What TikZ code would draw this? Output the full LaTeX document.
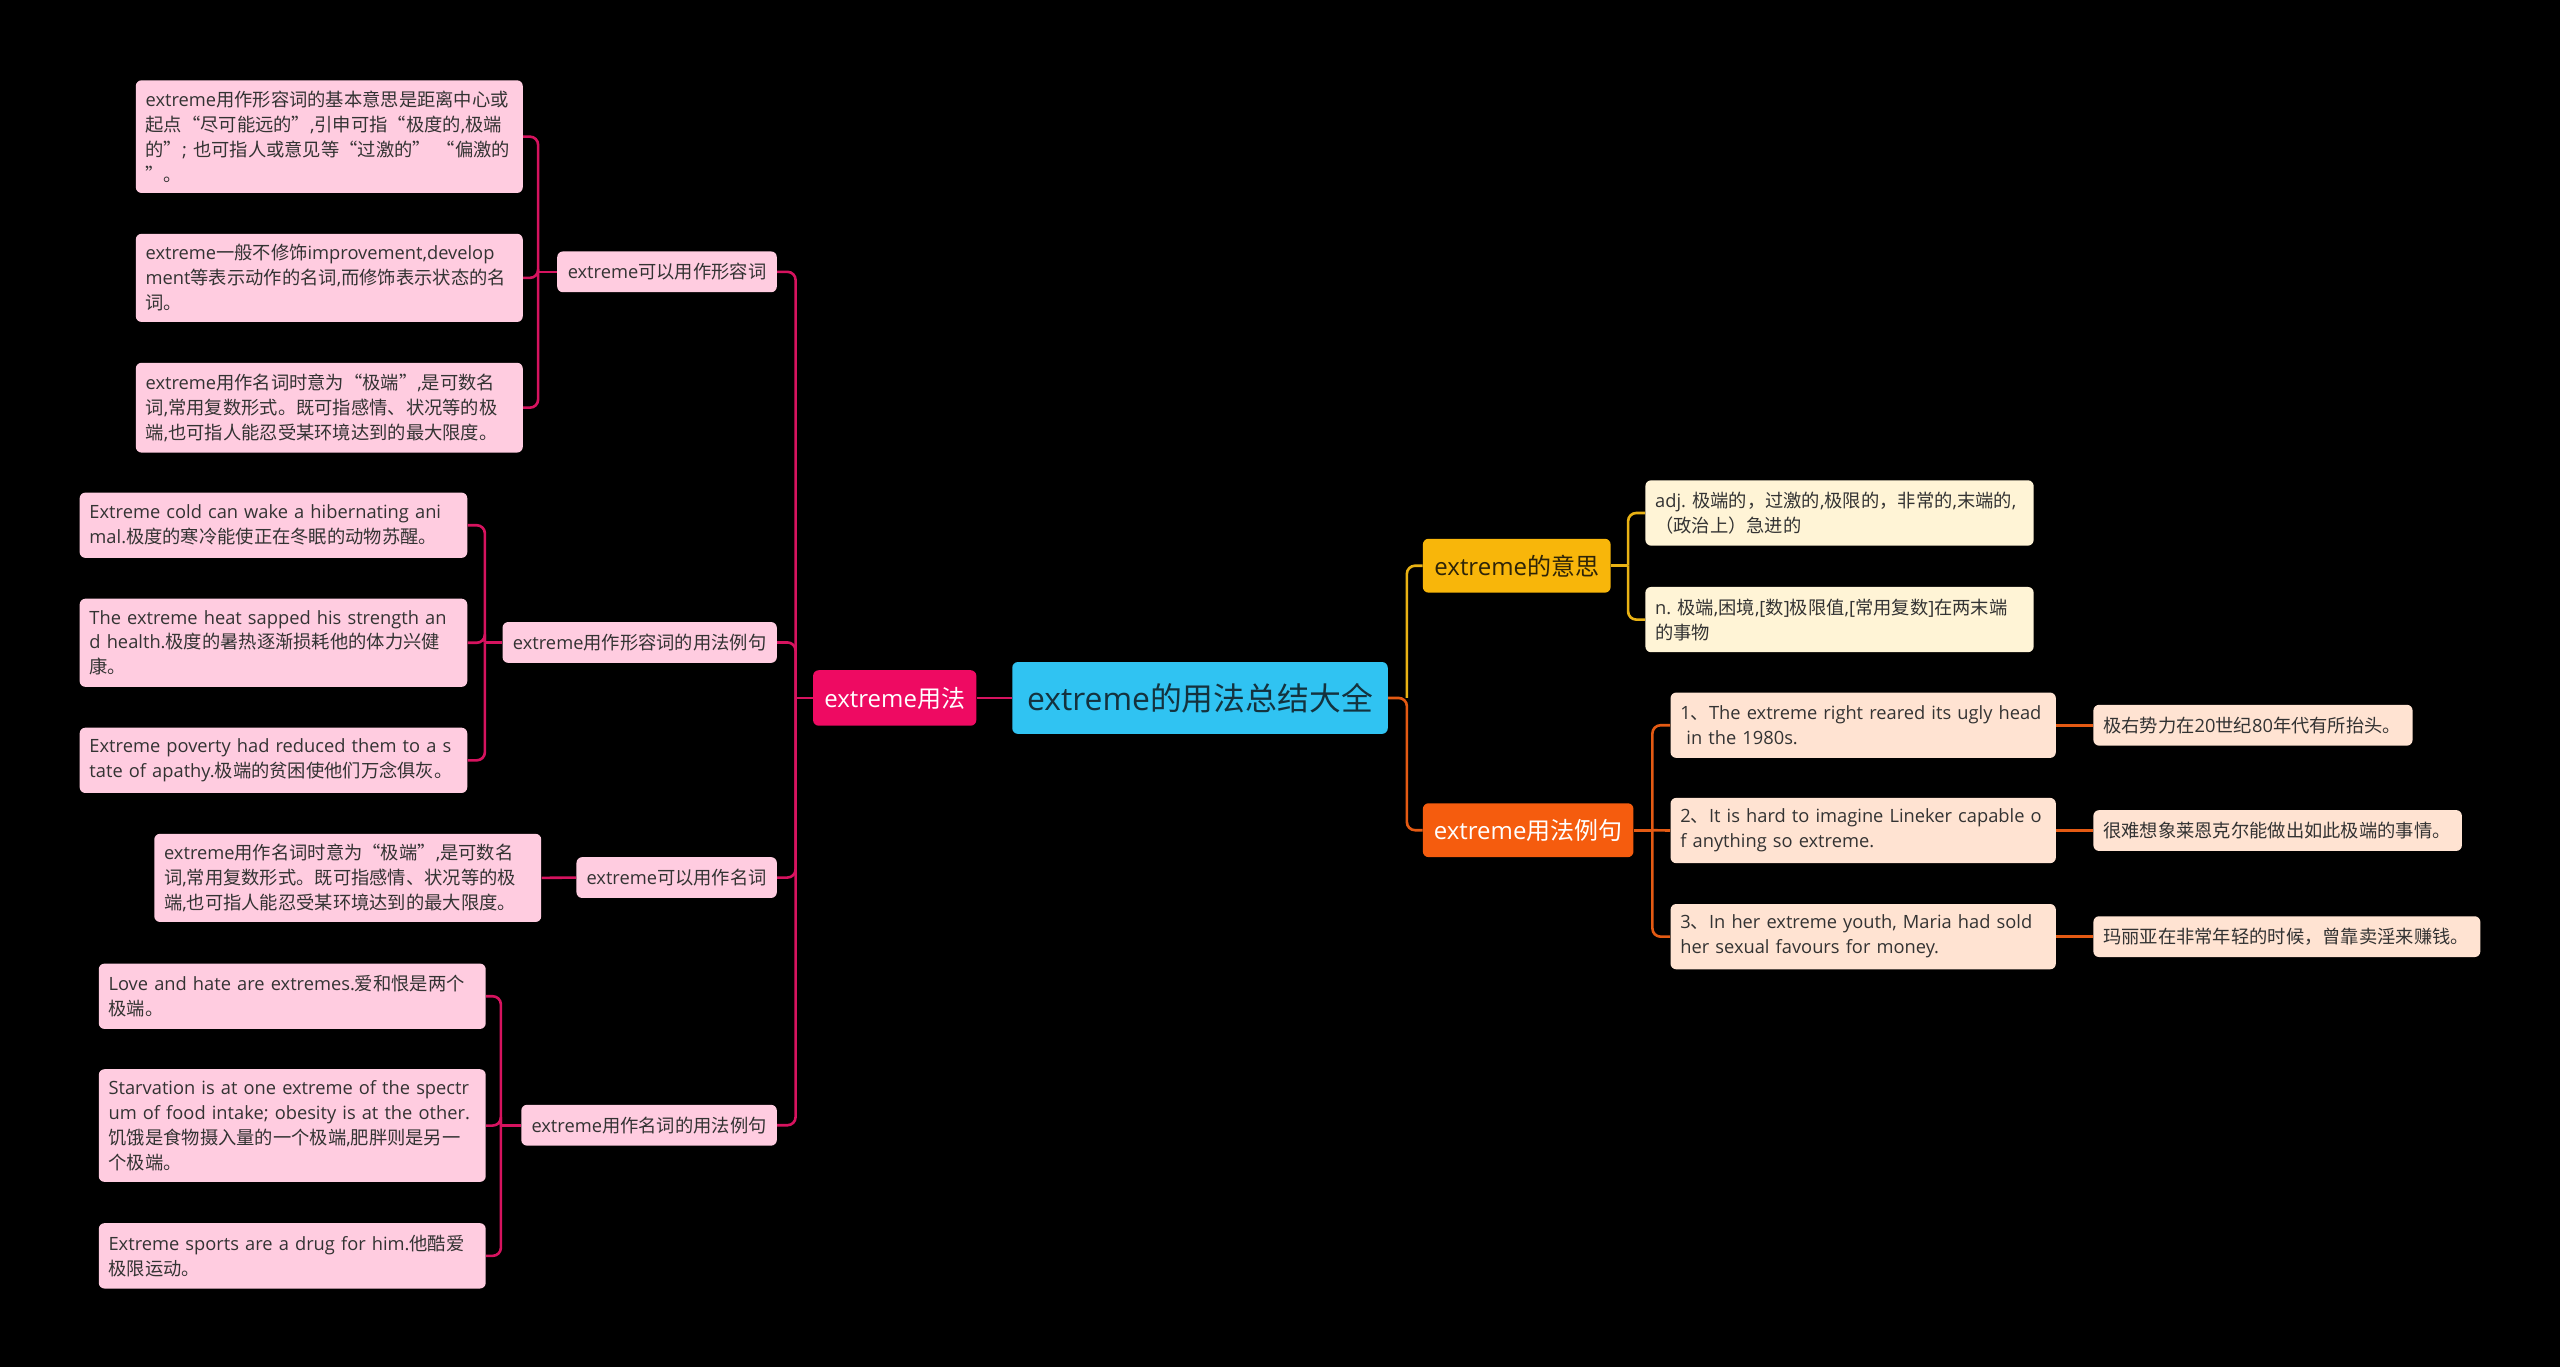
\documentclass[tikz,border=0pt]{standalone}
\usepackage{fontspec}
\setmainfont{Open Sans}[Scale=1.0]
\newfontfamily\cjkf{Noto Sans CJK SC}
\XeTeXinterchartokenstate=1
\newXeTeXintercharclass\cjkcls
\newcount\cjkcc
\def\setcjkrange#1#2{\cjkcc=#1\relax\loop\XeTeXcharclass\cjkcc=\cjkcls\relax\ifnum\cjkcc<#2\relax\advance\cjkcc by 1\relax\repeat}
\setcjkrange{"3000}{"303F}
\setcjkrange{"4E00}{"9FFF}
\setcjkrange{"FF00}{"FFEF}
\XeTeXcharclass"201C=\cjkcls
\XeTeXcharclass"201D=\cjkcls
\XeTeXinterchartoks 0 \cjkcls = {\begingroup\cjkf}
\XeTeXinterchartoks 4095 \cjkcls = {\begingroup\cjkf}
\XeTeXinterchartoks \cjkcls 0 = {\endgroup}
\XeTeXinterchartoks \cjkcls 4095 = {\endgroup}

\definecolor{pinkfill}{HTML}{FFCCE0}
\definecolor{pinkline}{HTML}{D6135F}
\definecolor{usagefill}{HTML}{EE0A62}
\definecolor{rootfill}{HTML}{30C3F2}
\definecolor{roottext}{HTML}{14323E}
\definecolor{yfill}{HTML}{F8B60A}
\definecolor{ytext}{HTML}{2E2408}
\definecolor{yline}{HTML}{E9B214}
\definecolor{cfill}{HTML}{FFF4D6}
\definecolor{ofill}{HTML}{F55C0E}
\definecolor{oline}{HTML}{E45A13}
\definecolor{dfill}{HTML}{FFE3D2}
\definecolor{leaftext}{HTML}{333333}

\newcommand\myleaf{\fontsize{11.2}{15.3}\selectfont}
\newcommand\mymid{\fontsize{11.2}{13}\selectfont}
\newcommand\mybig{\fontsize{14.7}{16}\selectfont}
\newcommand\myroot{\fontsize{19.5}{22}\selectfont}
\newcommand\Lx[1]{\mbox{#1}}

\tikzset{
  nbox/.style={rounded corners=3.5pt, inner sep=0pt},
  leafbox/.style={nbox, anchor=north west, align=left, inner xsep=6pt, inner ysep=3pt, font=\myleaf, text=leaftext},
  pleaf/.style={leafbox, fill=pinkfill},
  cleaf/.style={leafbox, fill=cfill},
  dleaf/.style={leafbox, fill=dfill},
  midbox/.style={nbox, fill=pinkfill, anchor=east, font=\mymid, text=leaftext, minimum height=25pt},
  pl/.style={draw=pinkline, line width=1.6pt},
  yl/.style={draw=yline, line width=1.6pt},
  ol/.style={draw=oline, line width=1.6pt},
  rc/.style={rounded corners=5pt},
}

\begin{document}
\begin{tikzpicture}[x=1pt,y=-1pt,line join=round]
\path[fill=black] (0,0) rectangle (1568,837);

% central and first level
\node[nbox, fill=rootfill, text=roottext, font=\myroot, minimum width=230pt, minimum height=44pt] (root) at (735,427.5) {extreme的用法总结大全};
\node[nbox, fill=usagefill, text=white, font=\mybig, minimum width=100pt, minimum height=34pt] (yongfa) at (548,427.5) {extreme用法};
\node[nbox, fill=yfill, text=ytext, font=\mybig, minimum width=115pt, minimum height=33pt] (B1) at (929,346.5) {extreme的意思};
\node[nbox, fill=ofill, text=white, font=\mybig, minimum width=129pt, minimum height=33pt] (B2) at (936,508.5) {extreme用法例句};

% left second level
\node[midbox, minimum width=134.5pt] (A1) at (476,166.5) {extreme可以用作形容词};
\node[midbox, minimum width=168pt] (A2) at (476,393.5) {extreme用作形容词的用法例句};
\node[midbox, minimum width=122.7pt] (A3) at (476,537.5) {extreme可以用作名词};
\node[midbox, minimum width=156.5pt] (A4) at (476,689.2) {extreme用作名词的用法例句};

% left leaves
\node[pleaf, text width=225pt, minimum height=69pt] (L1) at (83,49) {\Lx{extreme用作形容词的基本意思是距离中心或}\\\Lx{起点“尽可能远的”,引申可指“极度的,极端}\\\Lx{的”; 也可指人或意见等“过激的” “偏激的}\\\Lx{”。}};
\node[pleaf, text width=225pt, minimum height=54pt] (L2) at (83,143) {\Lx{extreme一般不修饰improvement,develop}\\\Lx{ment等表示动作的名词,而修饰表示状态的名}\\\Lx{词。}};
\node[pleaf, text width=225pt, minimum height=55pt] (L3) at (83,222) {\Lx{extreme用作名词时意为“极端”,是可数名}\\\Lx{词,常用复数形式。既可指感情、状况等的极}\\\Lx{端,也可指人能忍受某环境达到的最大限度。}};

\node[pleaf, text width=225.4pt, minimum height=40pt] (M1) at (48.6,301.5) {\Lx{Extreme cold can wake a hibernating ani}\\\Lx{mal.极度的寒冷能使正在冬眠的动物苏醒。}};
\node[pleaf, text width=225.4pt, minimum height=54pt] (M2) at (48.6,366.5) {\Lx{The extreme heat sapped his strength an}\\\Lx{d health.极度的暑热逐渐损耗他的体力兴健}\\\Lx{康。}};
\node[pleaf, text width=225.4pt, minimum height=40pt] (M3) at (48.6,445.5) {\Lx{Extreme poverty had reduced them to a s}\\\Lx{tate of apathy.极端的贫困使他们万念俱灰。}};

\node[pleaf, text width=225pt, minimum height=54pt] (N1) at (94.3,510.5) {\Lx{extreme用作名词时意为“极端”,是可数名}\\\Lx{词,常用复数形式。既可指感情、状况等的极}\\\Lx{端,也可指人能忍受某环境达到的最大限度。}};

\node[pleaf, text width=225pt, minimum height=40pt] (P1) at (60.3,590) {\Lx{Love and hate are extremes.爱和恨是两个}\\\Lx{极端。}};
\node[pleaf, text width=225pt, minimum height=69pt] (P2) at (60.3,654.7) {\Lx{Starvation is at one extreme of the spectr}\\\Lx{um of food intake; obesity is at the other.}\\\Lx{饥饿是食物摄入量的一个极端,肥胖则是另一}\\\Lx{个极端。}};
\node[pleaf, text width=225pt, minimum height=40pt] (P3) at (60.3,749) {\Lx{Extreme sports are a drug for him.他酷爱}\\\Lx{极限运动。}};

% right leaves
\node[cleaf, text width=225.8pt, minimum height=40pt] (C1) at (1007.6,294) {\Lx{adj.~极端的，过激的,极限的，非常的,末端的,}\\\Lx{（政治上）急进的}};
\node[cleaf, text width=225.8pt, minimum height=40pt] (C2) at (1007.6,359.3) {\Lx{n.~极端,困境,[数]极限值,[常用复数]在两末端}\\\Lx{的事物}};

\node[dleaf, text width=224pt, minimum height=40pt] (D1) at (1023,424) {\Lx{1、The extreme right reared its ugly head}\\\Lx{\ in the 1980s.}};
\node[dleaf, text width=224pt, minimum height=40pt] (D2) at (1023,488.5) {\Lx{2、It is hard to imagine Lineker capable o}\\\Lx{f anything so extreme.}};
\node[dleaf, text width=224pt, minimum height=40pt] (D3) at (1023,553.5) {\Lx{3、In her extreme youth, Maria had sold}\\\Lx{her sexual favours for money.}};

\node[dleaf, text width=183.5pt, minimum height=25pt] (E1) at (1282,431.5) {\Lx{极右势力在20世纪80年代有所抬头。}};
\node[dleaf, text width=213.7pt, minimum height=25pt] (E2) at (1282,496) {\Lx{很难想象莱恩克尔能做出如此极端的事情。}};
\node[dleaf, text width=225pt, minimum height=25pt] (E3) at (1282,561) {\Lx{玛丽亚在非常年轻的时候，曾靠卖淫来赚钱。}};

% branch points
\path (yongfa.west) ++(-10.5,0) coordinate (tL);
\path (A1.west) ++(-11.5,0) coordinate (tA1);
\path (A2.west) ++(-10.6,0) coordinate (tA2);
\path (A4.west) ++(-12.3,0) coordinate (tA4);
\path (root.east) ++(11.5,0) coordinate (tR);
\path (B1.east) ++(10.5,0) coordinate (tB1);
\path (B2.east) ++(11.4,0) coordinate (tB2);

% left connectors
\draw[pl] (root.west) -- (yongfa.east);
\draw[pl] (yongfa.west) -- (tL);
\foreach \n in {A1,A2,A3,A4} \draw[pl,rc] (tL) |- (\n.east);
\draw[pl] (A1.west) -- (tA1);
\foreach \n in {L1,L2,L3} \draw[pl,rc] (tA1) |- (\n.east);
\draw[pl] (A2.west) -- (tA2);
\foreach \n in {M1,M2,M3} \draw[pl,rc] (tA2) |- (\n.east);
\draw[pl] (A3.west) -- (N1.east);
\draw[pl] (A4.west) -- (tA4);
\foreach \n in {P1,P2,P3} \draw[pl,rc] (tA4) |- (\n.east);

% right connectors
\draw[yl,rc] (tR) |- (B1.west);
\draw[ol,rc] (root.east) -- (tR) |- (B2.west);
\draw[yl] (B1.east) -- (tB1);
\foreach \n in {C1,C2} \draw[yl,rc] (tB1) |- (\n.west);
\draw[ol] (B2.east) -- (tB2);
\draw[ol,rc] (tB2) |- (D1.west);
\draw[ol] (tB2) -- (D2.west);
\draw[ol,rc] (tB2) |- (D3.west);
\draw[ol] (D1.east) -- (E1.west);
\draw[ol] (D2.east) -- (E2.west);
\draw[ol] (D3.east) -- (E3.west);
\end{tikzpicture}
\end{document}
